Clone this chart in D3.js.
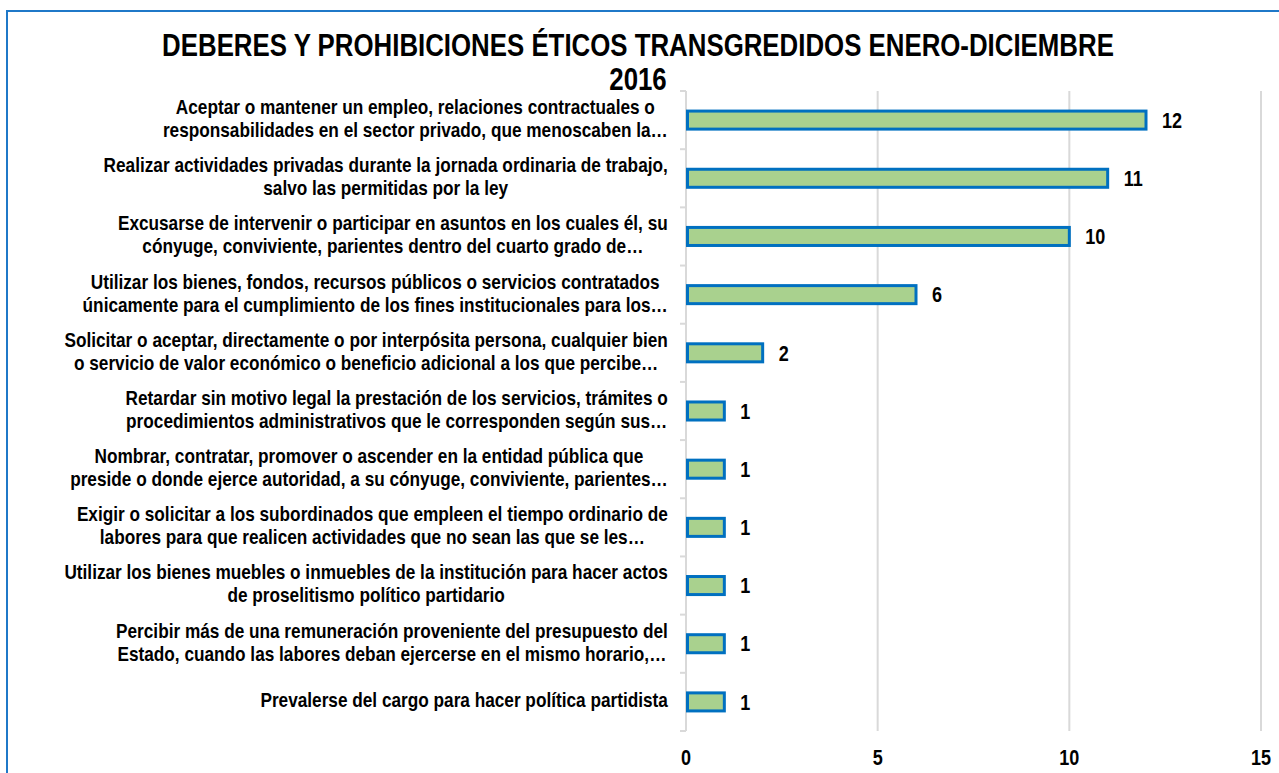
<!DOCTYPE html>
<html>
<head>
<meta charset="utf-8">
<script src="https://cdn.jsdelivr.net/npm/d3@7"></script>
<style>
  body { margin: 0; background: #fff; }
  svg text { font-family: "Liberation Sans", Arial, sans-serif; font-weight: bold; fill: #000; }
</style>
</head>
<body>
<div id="chart"></div>
<script>
let dimensions = {
  width: 1279,
  height: 773,
  margin: { top: 91, right: 18, bottom: 42, left: 686 }
};
dimensions.boundedWidth = dimensions.width - dimensions.margin.left - dimensions.margin.right;
dimensions.boundedHeight = dimensions.height - dimensions.margin.top - dimensions.margin.bottom;

// no narrow font is installed, so squeeze the regular one sideways
let narrow = 0.82;

// data
let titleLines = ["DEBERES Y PROHIBICIONES ÉTICOS TRANSGREDIDOS ENERO-DICIEMBRE", "2016"];
let categories = [
  ["Aceptar o mantener un empleo, relaciones contractuales o", "responsabilidades en el sector privado, que menoscaben la…"],
  ["Realizar actividades privadas durante la jornada ordinaria de trabajo,", "salvo las permitidas por la ley"],
  ["Excusarse de intervenir o participar en asuntos en los cuales él, su", "cónyuge, conviviente, parientes dentro del cuarto grado de…"],
  ["Utilizar los bienes, fondos, recursos públicos o servicios contratados", "únicamente para el cumplimiento de los fines institucionales para los…"],
  ["Solicitar o aceptar, directamente o por interpósita persona, cualquier bien", "o servicio de valor económico o beneficio adicional a los que percibe…"],
  ["Retardar sin motivo legal la prestación de los servicios, trámites o", "procedimientos administrativos que le corresponden según sus…"],
  ["Nombrar, contratar, promover o ascender en la entidad pública que", "preside o donde ejerce autoridad, a su cónyuge, conviviente, parientes…"],
  ["Exigir o solicitar a los subordinados que empleen el tiempo ordinario de", "labores para que realicen actividades que no sean las que se les…"],
  ["Utilizar los bienes muebles o inmuebles de la institución para hacer actos", "de proselitismo político partidario"],
  ["Percibir más de una remuneración proveniente del presupuesto del", "Estado, cuando las labores deban ejercerse en el mismo horario,…"],
  ["Prevalerse del cargo para hacer política partidista"]
];
let values = [12, 11, 10, 6, 2, 1, 1, 1, 1, 1, 1];
let xTicks = [0, 5, 10, 15];

let data = values.map((v, i) => ({ id: i, lines: categories[i], value: v }));

let svg = d3.select('#chart')
  .append('svg')
  .attr('width', dimensions.width)
  .attr('height', dimensions.height);

// chart frame (runs off the right and bottom edge)
svg.append('rect')
  .attr('x', 7)
  .attr('y', 11)
  .attr('width', 1400)
  .attr('height', 900)
  .attr('fill', 'none')
  .attr('stroke', '#1f78c8')
  .attr('stroke-width', 2);

// title
svg.selectAll('.title')
  .data(titleLines)
  .enter()
  .append('text')
  .attr('class', 'title')
  .attr('text-anchor', 'middle')
  .attr('transform', (d, i) => `translate(638,${56 + i * 34}) scale(${narrow},1)`)
  .style('font-size', '31.5px')
  .text(d => d);

let bounds = svg.append('g')
  .attr('transform', `translate(${dimensions.margin.left},${dimensions.margin.top})`);

let x = d3.scaleLinear()
  .domain([0, 15])
  .range([0, dimensions.boundedWidth]);

let y = d3.scaleBand()
  .domain(data.map(d => d.id))
  .range([0, dimensions.boundedHeight])
  .paddingInner(0.69)
  .paddingOuter(0.345);

// gridlines
bounds.selectAll('.grid')
  .data(xTicks.slice(1))
  .enter()
  .append('line')
  .attr('class', 'grid')
  .attr('x1', d => x(d))
  .attr('x2', d => x(d))
  .attr('y1', 0)
  .attr('y2', dimensions.boundedHeight)
  .style('stroke', '#d9d9d9')
  .attr('stroke-width', 2);

// category axis line + little ticks
bounds.append('line')
  .attr('x1', 0).attr('x2', 0)
  .attr('y1', 0).attr('y2', dimensions.boundedHeight)
  .style('stroke', '#d9d9d9')
  .attr('stroke-width', 2);

bounds.selectAll('.ytick')
  .data(d3.range(data.length + 1))
  .enter()
  .append('line')
  .attr('class', 'ytick')
  .attr('x1', -6).attr('x2', 0)
  .attr('y1', i => i * dimensions.boundedHeight / data.length)
  .attr('y2', i => i * dimensions.boundedHeight / data.length)
  .style('stroke', '#d9d9d9')
  .attr('stroke-width', 2);

// bars
bounds.selectAll('.bar')
  .data(data)
  .enter()
  .append('rect')
  .attr('class', 'bar')
  .attr('x', x(0) + 1.5)
  .attr('y', d => y(d.id))
  .attr('width', d => x(d.value) - x(0) - 1.5)
  .attr('height', y.bandwidth())
  .attr('fill', '#a9d18e')
  .attr('stroke', '#0070c0')
  .attr('stroke-width', 3);

// value labels
bounds.selectAll('.val')
  .data(data)
  .enter()
  .append('text')
  .attr('class', 'val')
  .attr('transform', d => `translate(${x(d.value) + 16},${y(d.id) + y.bandwidth() / 2}) scale(${narrow},1)`)
  .attr('dy', '0.35em')
  .style('font-size', '22px')
  .text(d => d.value);

// x tick labels
bounds.selectAll('.xlab')
  .data(xTicks)
  .enter()
  .append('text')
  .attr('class', 'xlab')
  .attr('transform', d => `translate(${x(d)},${dimensions.boundedHeight + 26}) scale(${narrow},1)`)
  .attr('dy', '0.35em')
  .attr('text-anchor', 'middle')
  .style('font-size', '22px')
  .text(d => d);

// category labels: each line centred inside a block that is right aligned
let labelRight = -18;
let lineGap = 23;
let labels = bounds.selectAll('.cat')
  .data(data)
  .enter()
  .append('g')
  .attr('class', 'cat');

labels.each(function (d) {
  let g = d3.select(this);
  let cy = y(d.id) + y.bandwidth() / 2;
  let n = d.lines.length;
  let texts = g.selectAll('text')
    .data(d.lines)
    .enter()
    .append('text')
    .attr('text-anchor', 'middle')
    .attr('dy', '0.35em')
    .style('font-size', '21px')
    .text(l => l);
  let maxW = d3.max(texts.nodes(), t => t.getComputedTextLength()) * narrow;
  texts.attr('transform', (l, i) =>
    `translate(${labelRight - maxW / 2},${cy - 2 + (i - (n - 1) / 2) * lineGap}) scale(${narrow},1)`);
});
</script>
</body>
</html>
